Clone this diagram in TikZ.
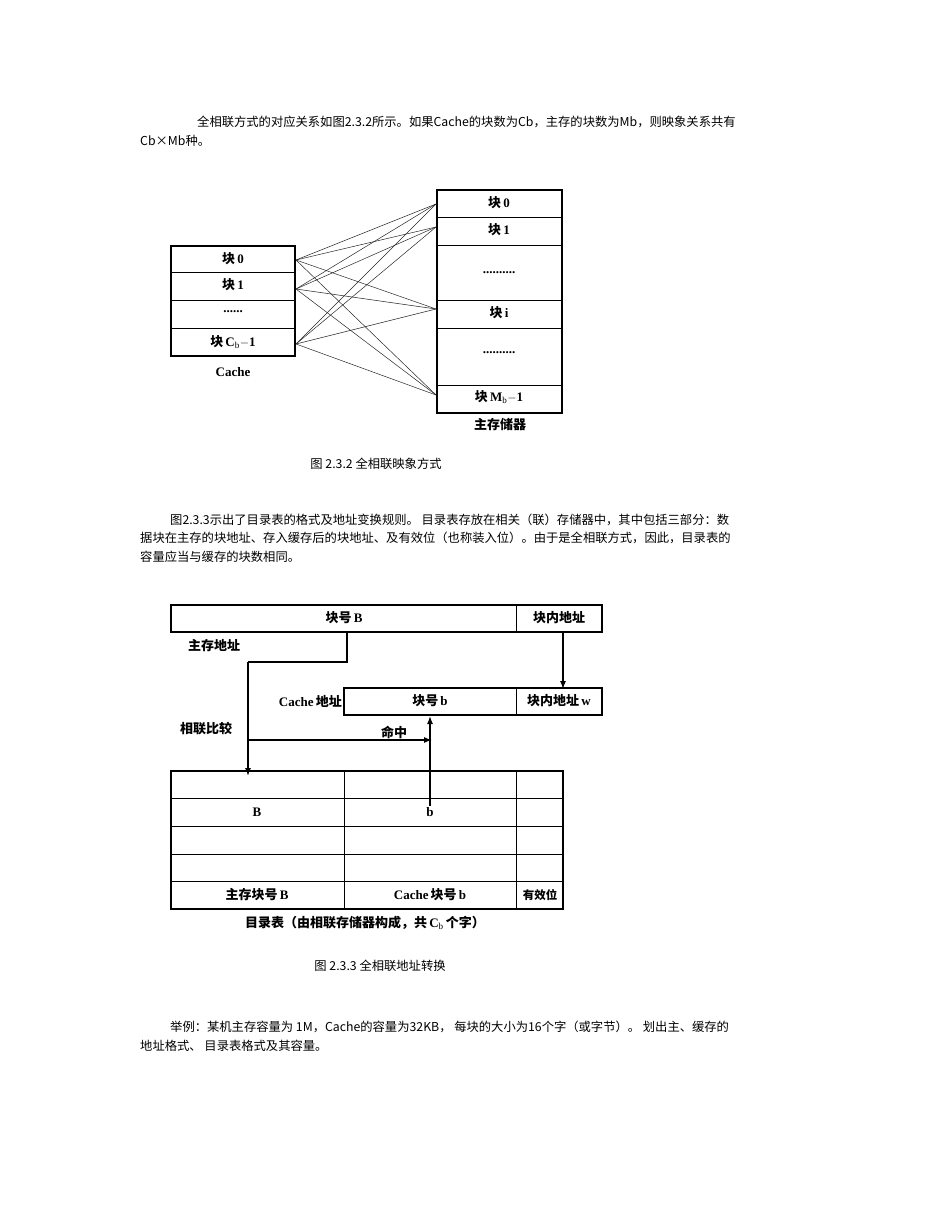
\documentclass[tikz,border=0pt]{standalone}
\usepackage{fontspec}
\setmainfont{Liberation Serif}
\newfontfamily\zh{Noto Sans CJK SC}
\tikzset{
  body/.style={anchor=base west,inner sep=0pt,font=\zh\fontsize{12.3}{14}\selectfont},
  lab/.style={inner sep=0pt,font=\bfseries\fontsize{13}{15}\selectfont},
  ln/.style={line width=1.6pt},
  thin/.style={line width=0.5pt},
  arr/.style={line width=1.3pt,-{Latex[length=8pt,width=6pt]}},
  web/.style={line width=0.5pt,black!85}
}
\usetikzlibrary{arrows.meta}
\newcommand{\zb}[1]{{\zh\bfseries #1}}
\begin{document}
\begin{tikzpicture}[x=1pt,y=-1pt]
\useasboundingbox (0,0) rectangle (950,1230);
% paragraph 1
\node[body] (p1a) at (197,127) {全相联方式的对应关系如图2.3.2所示。如果Cache的块数为Cb，主存的块数为Mb，则映象关系共有};
\node[body] (p1b) at (140,146) {Cb×Mb种。};
% figure 2.3.2
\foreach \y in {246,272,300,328}{\draw[thin] (171,\y) -- (295,\y);}
\draw[ln] (171,246) rectangle (295,356);
\node[lab] (c0) at (233,259) {\zb{块}\,0};
\node[lab] (c1) at (233,285) {\zb{块}\,1};
\node[lab] (cd) at (233,312) {......};
\node[lab] (cn) at (233,342) {\zb{块}\,C$_{\mathrm{b}}$$-$1};
\node[lab] (cl) at (233,372) {Cache};
\foreach \y in {217,245,300,328,385}{\draw[thin] (437,\y) -- (562,\y);}
\draw[ln] (437,190) rectangle (562,413);
\node[lab] (m0) at (499,203) {\zb{块}\,0};
\node[lab] (m1) at (499,230) {\zb{块}\,1};
\node[lab] (md1) at (499,273) {..........};
\node[lab] (mi) at (499,313) {\zb{块}\,i};
\node[lab] (md2) at (499,353) {..........};
\node[lab] (mn) at (499,397) {\zb{块}\,M$_{\mathrm{b}}$$-$1};
\node[lab] (ml) at (500,425) {\zb{主存储器}};
\coordinate (L0) at (296,260); \coordinate (L1) at (296,289); \coordinate (L2) at (296,344);
\coordinate (R0) at (436,204); \coordinate (R1) at (436,227); \coordinate (R2) at (436,309); \coordinate (R3) at (436,395);
\foreach \a in {L0,L1,L2}{\foreach \b in {R0,R1,R2,R3}{\draw[web] (\a) -- (\b);}}
\node[body,anchor=base] (cap1) at (376,468) {图 2.3.2 全相联映象方式};
% paragraph 2
\node[body] (p2a) at (170,524) {图2.3.3示出了目录表的格式及地址变换规则。 目录表存放在相关（联）存储器中，其中包括三部分：数};
\node[body] (p2b) at (140,542) {据块在主存的块地址、存入缓存后的块地址、及有效位（也称装入位）。由于是全相联方式，因此，目录表的};
\node[body] (p2c) at (140,561) {容量应当与缓存的块数相同。};
% figure 2.3.3
\draw[ln] (171,605) rectangle (602,632);
\draw[thin] (516,605) -- (516,632);
\node[lab] (bB) at (344,618) {\zb{块号}\,B};
\node[lab] (bw) at (559,618) {\zb{块内地址}};
\node[lab] (mainaddr) at (214,646) {\zb{主存地址}};
\draw[ln] (344,688) rectangle (602,715);
\draw[thin] (516,688) -- (516,715);
\node[lab] (cb) at (430,701) {\zb{块号}\,b};
\node[lab] (cw) at (559,701) {\zb{块内地址}\,w};
\node[lab,anchor=east] (caddr) at (342,701) {Cache\,\zb{地址}};
\node[lab] (cmp) at (206,729) {\zb{相联比较}};
\node[lab] (hit) at (394,732) {\zb{命中}};
\coordinate (t1) at (347,633);
\coordinate (t2) at (347,662);
\coordinate (t3) at (248,662);
\coordinate (t4) at (248,776);
\coordinate (h1) at (248,740);
\coordinate (h2) at (432,740);
\coordinate (v1) at (430,812);
\coordinate (v2) at (430,716);
\coordinate (w1) at (563,633);
\coordinate (w2) at (563,689);
\draw[line width=1.3pt] (t1) -- (t2) -- (t3);
\draw[arr] (t3) -- (t4);
\draw[arr] (h1) -- (h2);
\draw[arr] (v1) -- (v2);
\draw[arr] (w1) -- (w2);
\foreach \y in {798,826,854,881}{\draw[thin] (171,\y) -- (563,\y);}
\draw[thin] (344,771) -- (344,909);
\draw[thin] (516,771) -- (516,909);
\draw[ln] (171,771) rectangle (563,909);
\node[lab] (tB) at (257,812) {B};
\node[lab,fill=white,inner sep=1pt] (tb) at (430,812) {b};
\node[lab] (h1t) at (257,895) {\zb{主存块号}\,B};
\node[lab] (h2t) at (430,895) {Cache\,\zb{块号}\,b};
\node[lab] (h3t) at (540,895) {\zb{\fontsize{11.5}{13}\selectfont 有效位}};
\node[lab] (dir) at (365,923) {\zb{目录表（由相联存储器构成，共}\,C$_{\mathrm{b}}$\,\zb{个字）}};
\node[body,anchor=base] (cap2) at (380,970) {图 2.3.3 全相联地址转换};
% paragraph 3
\node[body] (p3a) at (170,1031) {举例：某机主存容量为 1M，Cache的容量为32KB， 每块的大小为16个字（或字节）。  划出主、缓存的};
\node[body] (p3b) at (140,1050) {地址格式、  目录表格式及其容量。};
\end{tikzpicture}
\end{document}
